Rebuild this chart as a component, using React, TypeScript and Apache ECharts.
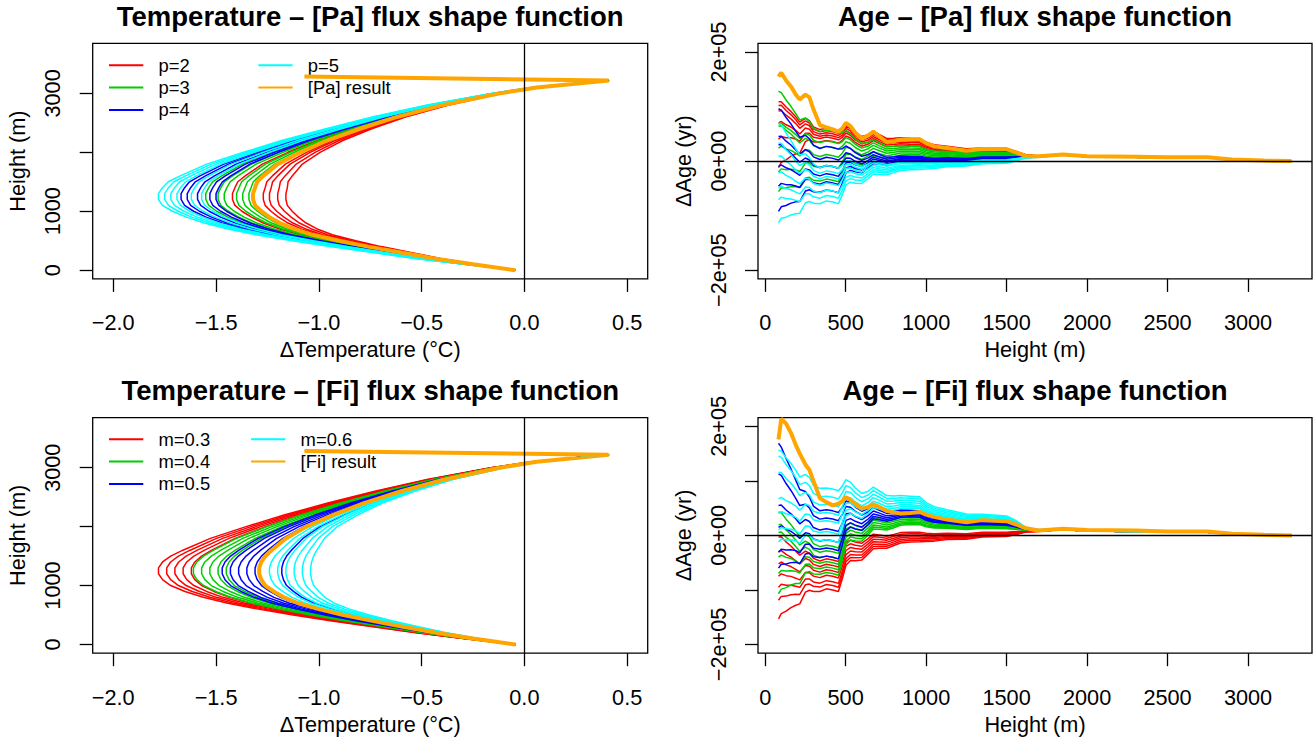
import React, { useEffect, useRef } from 'react';
import * as echarts from 'echarts';

// ---------- colours (R palette) ----------
const RED = '#FF0000';
const GREEN = '#00CD00';
const BLUE = '#0000FF';
const CYAN = '#00FFFF';
const ORANGE = '#FFA500';

// ---------- temperature panels ----------
const TEMP_H = [0, 100, 200, 300, 400, 500, 600, 700, 800, 900, 1000, 1100, 1200, 1300, 1400, 1500, 1600, 1800, 2000, 2200, 2400, 2600, 2800, 3000, 3100, 3220];
const SURFACE_H = 3285;
const SURFACE_T = -1.07;
const PA_RESULT_T = [-0.044, -0.25, -0.44, -0.6, -0.76, -0.9, -1.03, -1.12, -1.19, -1.24, -1.28, -1.31, -1.32, -1.32, -1.31, -1.3, -1.27, -1.2, -1.09, -0.96, -0.8, -0.62, -0.4, -0.12, 0.06, 0.41];
const FI_RESULT_T = [-0.044, -0.25, -0.43, -0.59, -0.74, -0.88, -1.0, -1.1, -1.17, -1.22, -1.26, -1.28, -1.29, -1.29, -1.28, -1.26, -1.23, -1.16, -1.06, -0.93, -0.78, -0.6, -0.39, -0.12, 0.06, 0.41];
// relative spread of the family of profiles with height (1 at the minimum)
const TEMP_SPREAD = [0, 0.1, 0.2, 0.3, 0.4, 0.5, 0.6, 0.7, 0.8, 0.88, 0.94, 0.98, 1.0, 1.0, 0.98, 0.94, 0.88, 0.75, 0.6, 0.48, 0.36, 0.26, 0.17, 0.09, 0.05, 0.02];
// minimum temperature of each profile (°C)
const PA_T_P2 = [-1.42, -1.27, -1.24, -1.2, -1.16];
const PA_T_P3 = [-1.55, -1.49, -1.46, -1.4, -1.37, -1.34];
const PA_T_P4 = [-1.67, -1.64, -1.59, -1.53, -1.5];
const PA_T_P5 = [-1.78, -1.75, -1.72, -1.69, -1.62, -1.57];
const FI_T_M03 = [-1.78, -1.74, -1.7, -1.66, -1.62];
const FI_T_M04 = [-1.61, -1.57, -1.53, -1.49, -1.45];
const FI_T_M05 = [-1.47, -1.43, -1.39, -1.35, -1.31, -1.18];
const FI_T_M06 = [-1.24, -1.2, -1.16, -1.12, -1.08, -1.04];

// ---------- age panels (values in 1e5 yr) ----------
const AGE_H = [83, 100, 130, 160, 190, 215, 250, 275, 300, 340, 380, 420, 455, 480, 502, 530, 560, 600, 640, 672, 710, 755, 800, 840, 900, 960, 1000, 1050, 1130, 1250, 1350, 1500, 1560, 1620, 1700, 1850, 2000, 2300, 2500, 2750, 2900, 3100, 3270];
const PA_RESULT_AGE = [1.55, 1.62, 1.48, 1.37, 1.22, 1.13, 1.22, 1.17, 0.95, 0.66, 0.62, 0.58, 0.54, 0.6, 0.7, 0.64, 0.52, 0.41, 0.47, 0.54, 0.45, 0.35, 0.37, 0.39, 0.4, 0.4, 0.33, 0.27, 0.24, 0.19, 0.22, 0.22, 0.16, 0.09, 0.09, 0.12, 0.09, 0.08, 0.07, 0.07, 0.03, 0.01, 0.0];
const FI_RESULT_AGE = [1.76, 2.14, 2.05, 1.88, 1.66, 1.5, 1.3, 1.2, 1.0, 0.68, 0.61, 0.55, 0.58, 0.63, 0.7, 0.65, 0.58, 0.49, 0.52, 0.57, 0.52, 0.45, 0.42, 0.4, 0.41, 0.43, 0.38, 0.34, 0.29, 0.24, 0.28, 0.26, 0.2, 0.13, 0.09, 0.12, 0.1, 0.09, 0.07, 0.07, 0.03, 0.01, 0.0];
// common profiles shared by all age curves
const AGE_TAIL = [0.06, 0.06, 0.06, 0.06, 0.06, 0.06, 0.06, 0.06, 0.06, 0.06, 0.06, 0.06, 0.06, 0.06, 0.06, 0.06, 0.06, 0.06, 0.06, 0.06, 0.06, 0.06, 0.06, 0.06, 0.06, 0.06, 0.06, 0.06, 0.06, 0.06, 0.06, 0.06, 0.07, 0.08, 0.08, 0.11, 0.08, 0.07, 0.06, 0.06, 0.03, 0.01, 0.0];
const AGE_WIGGLE = [0, 0.04, 0, -0.02, -0.06, -0.1, 0.03, 0.02, -0.05, -0.08, -0.04, -0.06, -0.09, -0.03, 0.06, 0.04, -0.02, -0.07, -0.02, 0.04, 0, -0.04, -0.02, 0, 0, 0, -0.02, -0.03, -0.02, -0.03, 0, 0, 0, 0, 0, 0, 0, 0, 0, 0, 0, 0, 0];
const AGE_EARLY = [1, 0.9, 0.75, 0.6, 0.45, 0.35, 0.2, 0.12, 0.05, 0, 0, 0, 0, 0, 0, 0, 0, 0, 0, 0, 0, 0, 0, 0, 0, 0, 0, 0, 0, 0, 0, 0, 0, 0, 0, 0, 0, 0, 0, 0, 0, 0, 0];
const AGE_MID = [0, 0.1, 0.25, 0.4, 0.55, 0.65, 0.8, 0.88, 0.95, 1, 1, 1, 1, 0.75, 0.55, 0.42, 0.36, 0.3, 0.22, 0.17, 0.12, 0.08, 0.05, 0.02, 0, 0, 0, 0, 0, 0, 0, 0, 0, 0, 0, 0, 0, 0, 0, 0, 0, 0, 0];
const AGE_LATE = [1.5, 1.5, 1.5, 1.5, 1.5, 1.45, 1.45, 1.45, 1.4, 1.4, 1.35, 1.35, 1.35, 1.38, 1.4, 1.35, 1.28, 1.2, 1.18, 1.2, 1.15, 1.08, 1.04, 1.02, 1.0, 0.98, 0.85, 0.75, 0.65, 0.55, 0.5, 0.45, 0.3, 0.1, 0.04, 0, 0, 0, 0, 0, 0, 0, 0];
// each curve: [ΔAge at 83 m, at 420 m, at 900 m]
const PA_AGE_P2 = [[1.09, 0.58, 0.42], [1.02, 0.54, 0.4], [0.92, 0.5, 0.37], [0.7, 0.46, 0.34], [0.4, 0.42, 0.31], [-0.12, 0.36, 0.28]];
const PA_AGE_P3 = [[1.28, 0.55, 0.27], [0.68, 0.35, 0.24], [0.64, 0.25, 0.21], [0.24, 0.1, 0.18], [-0.2, -0.1, 0.15], [-0.56, -0.35, 0.12]];
const PA_AGE_P4 = [[0.96, 0.25, 0.09], [0.45, 0.05, 0.07], [0.3, -0.1, 0.05], [-0.1, -0.25, 0.04], [-0.46, -0.4, 0.02], [-0.92, -0.55, 0.01]];
const PA_AGE_P5 = [[0.7, -0.1, -0.02], [0.33, -0.2, -0.04], [0.09, -0.3, -0.07], [-0.22, -0.42, -0.09], [-0.5, -0.55, -0.11], [-0.71, -0.65, -0.13], [-1.13, -0.75, -0.16]];
const FI_AGE_M03 = [[-0.03, -0.45, 0.06], [-0.3, -0.55, 0.03], [-0.52, -0.65, 0.0], [-0.75, -0.75, -0.03], [-0.95, -0.85, -0.06], [-1.19, -0.92, -0.09], [-1.53, -1.0, -0.12]];
const FI_AGE_M04 = [[0.43, -0.2, 0.33], [0.2, -0.3, 0.3], [0.06, -0.4, 0.27], [-0.4, -0.5, 0.24], [-0.7, -0.6, 0.22], [-1.07, -0.7, 0.2]];
const FI_AGE_M05 = [[1.69, 0.45, 0.46], [1.13, 0.3, 0.43], [0.55, 0.1, 0.4], [0.15, -0.1, 0.38], [-0.31, -0.25, 0.36], [-0.6, -0.4, 0.34]];
const FI_AGE_M06 = [[1.56, 0.85, 0.72], [1.45, 0.7, 0.68], [1.16, 0.55, 0.64], [0.67, 0.4, 0.6], [0.4, 0.25, 0.56], [0.1, 0.05, 0.53], [-0.12, -0.1, 0.5]];

// ---------- ticks & texts ----------
const TEMP_X_TICKS = [-2, -1.5, -1, -0.5, 0, 0.5];
const TEMP_Y_TICKS = [0, 1000, 2000, 3000];
const TEMP_Y_LABELS = [0, 1000, 3000];
const AGE_X_TICKS = [0, 500, 1000, 1500, 2000, 2500, 3000];
const AGE_Y_TICKS = [-200000, -100000, 0, 100000, 200000];
const AGE_Y_LABELS = [-200000, 0, 200000];
const TITLES = ['Temperature \u2013 [Pa] flux shape function', 'Age \u2013 [Pa] flux shape function', 'Temperature \u2013 [Fi] flux shape function', 'Age \u2013 [Fi] flux shape function'];
const LEGEND_PA = ['p=2', 'p=3', 'p=4', 'p=5', '[Pa] result'];
const LEGEND_FI = ['m=0.3', 'm=0.4', 'm=0.5', 'm=0.6', '[Fi] result'];

// ---------- layout ----------
const FONT = '"Liberation Sans", Arial, Helvetica, sans-serif';
const GX = [92.7, 758];
const GW = [555, 554];
const GY = [43.3, 417.6];
const GH = 235.6;
const AXIS_FS = 21.7;

function tempProfile(min: number, result: number[]) {
  const rmin = Math.min(...result);
  return TEMP_H.map((h, i) => [result[i] + (min - rmin) * TEMP_SPREAD[i], h]);
}
function tempResult(result: number[]) {
  const d = TEMP_H.map((h, i) => [result[i], h]);
  d.push([SURFACE_T, SURFACE_H]);
  return d;
}
const IQ = AGE_H.indexOf(420);
const IM = AGE_H.indexOf(900);
function ageProfile(v: number[]) {
  const [s, q, m] = v;
  const c = m - AGE_TAIL[IM] - AGE_WIGGLE[IM];
  const a = s - AGE_TAIL[0] - AGE_WIGGLE[0] - c * AGE_LATE[0];
  const b = q - AGE_TAIL[IQ] - AGE_WIGGLE[IQ] - c * AGE_LATE[IQ];
  return AGE_H.map((h, i) => [h, (AGE_TAIL[i] + AGE_WIGGLE[i] + c * AGE_LATE[i] + a * AGE_EARLY[i] + b * AGE_MID[i]) * 1e5]);
}
function ageResult(v: number[]) {
  return AGE_H.map((h, i) => [h, v[i] * 1e5]);
}

function line(data: number[][], color: string, width: number, idx: number, z: number) {
  return {
    type: 'line', data, xAxisIndex: idx, yAxisIndex: idx, showSymbol: false, symbol: 'none',
    lineStyle: { color, width }, itemStyle: { color }, silent: true, z, clip: true, animation: false,
  };
}
function zeroLine(idx: number, axis: 'xAxis' | 'yAxis') {
  return {
    type: 'line', data: [], xAxisIndex: idx, yAxisIndex: idx, silent: true, z: 3,
    markLine: {
      symbol: ['none', 'none'], silent: true, animation: false, label: { show: false },
      lineStyle: { color: '#000', width: 1.3, type: 'solid' }, emphasis: { disabled: true },
      data: [{ [axis]: 0 }],
    },
  };
}

const minus = (s: string) => s.replace('-', '\u2212');
const labelStyle = { fontSize: AXIS_FS, fontFamily: FONT, color: '#000' };

function xAxis(gridIndex: number, min: number, max: number, ticks: number[], fmt: (v: number) => string, name: string) {
  return {
    type: 'value', gridIndex, min, max, position: 'bottom',
    axisLine: { show: false, onZero: false }, splitLine: { show: false },
    axisTick: { show: true, length: 13, customValues: ticks, lineStyle: { color: '#000', width: 1.3 } },
    axisLabel: { show: true, customValues: ticks, formatter: fmt, margin: 33, ...labelStyle },
    name, nameLocation: 'middle', nameGap: 60, nameTextStyle: labelStyle,
  };
}
function yAxis(gridIndex: number, min: number, max: number, ticks: number[], labels: number[], fmt: (v: number) => string, name: string) {
  return {
    type: 'value', gridIndex, min, max, position: 'left',
    axisLine: { show: false, onZero: false }, splitLine: { show: false },
    axisTick: { show: true, length: 13, customValues: ticks, lineStyle: { color: '#000', width: 1.3 } },
    axisLabel: { show: true, customValues: labels, formatter: fmt, rotate: 90, margin: 29, ...labelStyle },
    name, nameLocation: 'middle', nameRotate: 90, nameGap: 64, nameTextStyle: labelStyle,
  };
}

function legendEls(labels: string[], y0: number, col2x: number) {
  const colors = [RED, GREEN, BLUE, CYAN, ORANGE];
  const els: any[] = [];
  labels.forEach((t, i) => {
    const col = i < 3 ? 0 : 1;
    const row = i < 3 ? i : i - 3;
    const lx = col === 0 ? 109 : col2x;
    const y = y0 + row * 22.3;
    els.push({ type: 'line', silent: true, shape: { x1: lx, y1: y, x2: lx + 34.3, y2: y }, style: { stroke: colors[i], lineWidth: 2 } });
    els.push({ type: 'text', silent: true, x: lx + 49.5, y, style: { text: t, fill: '#000', fontSize: 18.4, fontFamily: FONT, align: 'left', verticalAlign: 'middle' } });
  });
  return els;
}

function buildOption() {
  const series: any[] = [];
  // panel 0: temperature Pa
  const tPa: [number[], string][] = [[PA_T_P2, RED], [PA_T_P3, GREEN], [PA_T_P4, BLUE], [PA_T_P5, CYAN]];
  tPa.forEach(([mins, c]) => mins.forEach((m) => series.push(line(tempProfile(m, PA_RESULT_T), c, 1.5, 0, 2))));
  series.push(zeroLine(0, 'xAxis'));
  series.push(line(tempResult(PA_RESULT_T), ORANGE, 4, 0, 4));
  // panel 1: age Pa
  const aPa: [number[][], string][] = [[PA_AGE_P2, RED], [PA_AGE_P3, GREEN], [PA_AGE_P4, BLUE], [PA_AGE_P5, CYAN]];
  aPa.forEach(([cs, c]) => cs.forEach((v) => series.push(line(ageProfile(v), c, 1.5, 1, 2))));
  series.push(zeroLine(1, 'yAxis'));
  series.push(line(ageResult(PA_RESULT_AGE), ORANGE, 4, 1, 4));
  // panel 2: temperature Fi
  const tFi: [number[], string][] = [[FI_T_M03, RED], [FI_T_M04, GREEN], [FI_T_M05, BLUE], [FI_T_M06, CYAN]];
  tFi.forEach(([mins, c]) => mins.forEach((m) => series.push(line(tempProfile(m, FI_RESULT_T), c, 1.5, 2, 2))));
  series.push(zeroLine(2, 'xAxis'));
  series.push(line(tempResult(FI_RESULT_T), ORANGE, 4, 2, 4));
  // panel 3: age Fi
  const aFi: [number[][], string][] = [[FI_AGE_M03, RED], [FI_AGE_M04, GREEN], [FI_AGE_M05, BLUE], [FI_AGE_M06, CYAN]];
  aFi.forEach(([cs, c]) => cs.forEach((v) => series.push(line(ageProfile(v), c, 1.5, 3, 2))));
  series.push(zeroLine(3, 'yAxis'));
  series.push(line(ageResult(FI_RESULT_AGE), ORANGE, 4, 3, 4));

  const grids = [0, 1, 2, 3].map((i) => ({
    left: GX[i % 2], top: GY[Math.floor(i / 2)], width: GW[i % 2], height: GH,
    show: true, borderColor: '#000', borderWidth: 1.3, backgroundColor: 'transparent', containLabel: false,
  }));

  const tempFmtX = (v: number) => minus(v.toFixed(1));
  const tempFmtY = (v: number) => String(v);
  const ageFmtX = (v: number) => String(v);
  const ageFmtY = (v: number) => (v === 0 ? '0e+00' : minus((v < 0 ? '-' : '') + (Math.abs(v) / 1e5).toFixed(0) + 'e+05'));

  const tName = '\u0394Temperature (\u00B0C)';
  const xAxes = [
    xAxis(0, -2.1, 0.6, TEMP_X_TICKS, tempFmtX, tName),
    xAxis(1, -44.5, 3397.5, AGE_X_TICKS, ageFmtX, 'Height (m)'),
    xAxis(2, -2.1, 0.6, TEMP_X_TICKS, tempFmtX, tName),
    xAxis(3, -44.5, 3397.5, AGE_X_TICKS, ageFmtX, 'Height (m)'),
  ];
  const yAxes = [
    yAxis(0, -148, 3850, TEMP_Y_TICKS, TEMP_Y_LABELS, tempFmtY, 'Height (m)'),
    yAxis(1, -216000, 216000, AGE_Y_TICKS, AGE_Y_LABELS, ageFmtY, '\u0394Age (yr)'),
    yAxis(2, -148, 3850, TEMP_Y_TICKS, TEMP_Y_LABELS, tempFmtY, 'Height (m)'),
    yAxis(3, -216000, 216000, AGE_Y_TICKS, AGE_Y_LABELS, ageFmtY, '\u0394Age (yr)'),
  ];

  const graphic: any[] = [];
  TITLES.forEach((t, i) => {
    const cx = GX[i % 2] + GW[i % 2] / 2;
    const cy = 16.7 + (i >= 2 ? 374 : 0);
    graphic.push({ type: 'text', silent: true, x: cx, y: cy, style: { text: t, fill: '#000', fontSize: 27.5, fontWeight: 'bold', fontFamily: FONT, align: 'center', verticalAlign: 'middle' } });
  });
  graphic.push(...legendEls(LEGEND_PA, 65.3, 258.3));
  graphic.push(...legendEls(LEGEND_FI, 439.3, 251.1));

  return {
    animation: false,
    backgroundColor: '#fff',
    grid: grids,
    xAxis: xAxes,
    yAxis: yAxes,
    series,
    graphic,
  };
}

export default function App() {
  const ref = useRef<HTMLDivElement>(null);
  useEffect(() => {
    const chart = echarts.init(ref.current!, null, { renderer: 'svg' });
    chart.setOption(buildOption() as any);
    return () => chart.dispose();
  }, []);
  return <div ref={ref} style={{ position: 'absolute', left: 0, top: 0, width: 1313, height: 740, background: '#fff' }} />;
}
